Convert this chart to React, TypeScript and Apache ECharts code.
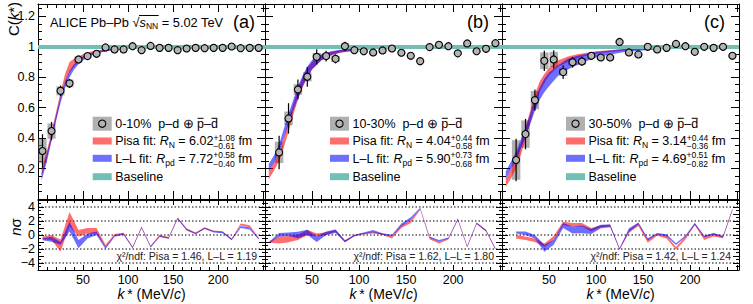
import React, { useEffect, useRef } from "react";
import * as echarts from "echarts";

const FONT = '"Liberation Sans", Arial, Helvetica, sans-serif';

// ---------------- data ----------------
const kA = [5, 15, 25, 35, 45, 55, 65, 75, 85, 95, 105, 115, 125, 135, 145, 155, 165, 175, 185, 195, 205, 215, 225, 235, 245];
const kBC = [15, 25, 35, 45, 55, 65, 75, 85, 95, 105, 115, 125, 135, 145, 155, 165, 175, 185, 195, 205, 215, 225, 235, 245];

// correlation function C(k*)
const cfA = [0.315, 0.446, 0.71, 0.759, 0.916, 0.938, 0.953, 0.995, 0.982, 0.982, 1.003, 0.977, 1.005, 0.992, 0.992, 0.977, 0.988, 0.992, 0.99, 0.992, 0.992, 1.001, 0.99, 0.992, 0.992];
const statA = [0.11, 0.06, 0.035, 0.03, 0.02, 0.018, 0.015, 0.012, 0.012, 0.012, 0.011, 0.011, 0.011, 0.01, 0.01, 0.01, 0.01, 0.01, 0.01, 0.01, 0.01, 0.01, 0.01, 0.01, 0.01];
const sysA = [0.08, 0.05, 0.03, 0.025, 0.02, 0.015, 0.012, 0.01, 0.008, 0.008, 0.008, 0.008, 0.008, 0.007, 0.007, 0.007, 0.007, 0.007, 0.007, 0.007, 0.007, 0.007, 0.007, 0.007, 0.007];

const cfB = [0.306, 0.529, 0.719, 0.802, 0.933, 0.938, 0.92, 1.003, 0.977, 0.97, 0.962, 0.975, 0.988, 0.96, 0.94, 0.905, 0.997, 1.012, 1.003, 0.956, 1.021, 0.97, 0.986, 1.023];
const statB = [0.11, 0.1, 0.065, 0.065, 0.05, 0.035, 0.03, 0.03, 0.02, 0.018, 0.018, 0.016, 0.016, 0.015, 0.015, 0.015, 0.015, 0.015, 0.015, 0.015, 0.015, 0.015, 0.015, 0.015];
const sysB = [0.07, 0.045, 0.035, 0.03, 0.025, 0.02, 0.02, 0.02, 0.012, 0.01, 0.01, 0.01, 0.01, 0.008, 0.008, 0.008, 0.008, 0.008, 0.008, 0.008, 0.008, 0.008, 0.008, 0.008];

const cfC = [0.256, 0.426, 0.649, 0.907, 0.916, 0.833, 0.898, 0.903, 0.94, 0.929, 0.929, 1.031, 0.962, 0.949, 0.999, 0.982, 0.992, 1.018, 1.003, 0.966, 0.999, 0.992, 0.999, 0.94];
const statC = [0.14, 0.1, 0.07, 0.066, 0.06, 0.045, 0.035, 0.03, 0.025, 0.022, 0.02, 0.02, 0.02, 0.018, 0.018, 0.018, 0.018, 0.018, 0.018, 0.018, 0.018, 0.018, 0.018, 0.018];
const sysC = [0.13, 0.09, 0.06, 0.055, 0.05, 0.025, 0.02, 0.02, 0.015, 0.012, 0.012, 0.01, 0.01, 0.01, 0.01, 0.01, 0.01, 0.01, 0.01, 0.01, 0.01, 0.01, 0.01, 0.01];

// fit bands (lower / upper edge) sampled at kFit
const kFit = [4, 10, 15, 20, 25, 30, 35, 40, 45, 50, 60, 70, 80, 100, 130, 170, 252];
const pisaLoA = [0.15, 0.27, 0.39, 0.52, 0.65, 0.76, 0.83, 0.87, 0.9, 0.925, 0.95, 0.965, 0.975, 0.986, 0.992, 0.995, 0.997];
const pisaHiA = [0.2, 0.32, 0.44, 0.57, 0.7, 0.82, 0.9, 0.92, 0.935, 0.95, 0.97, 0.98, 0.988, 0.994, 0.998, 1.0, 1.001];
const llLoA = [0.12, 0.25, 0.38, 0.51, 0.63, 0.73, 0.8, 0.85, 0.885, 0.91, 0.945, 0.962, 0.975, 0.987, 0.993, 0.996, 0.998];
const llHiA = [0.17, 0.3, 0.42, 0.55, 0.67, 0.77, 0.84, 0.885, 0.91, 0.935, 0.96, 0.975, 0.985, 0.994, 0.998, 1.0, 1.001];

const pisaLoB = [0.13, 0.19, 0.25, 0.34, 0.44, 0.55, 0.65, 0.73, 0.8, 0.85, 0.91, 0.94, 0.96, 0.978, 0.99, 0.995, 0.998];
const pisaHiB = [0.18, 0.24, 0.3, 0.4, 0.51, 0.62, 0.72, 0.8, 0.86, 0.9, 0.945, 0.965, 0.978, 0.99, 0.997, 1.0, 1.001];
const llLoB = [0.18, 0.24, 0.31, 0.4, 0.49, 0.58, 0.66, 0.74, 0.8, 0.85, 0.91, 0.945, 0.962, 0.98, 0.99, 0.995, 0.998];
const llHiB = [0.23, 0.29, 0.36, 0.46, 0.56, 0.65, 0.74, 0.81, 0.87, 0.91, 0.95, 0.97, 0.98, 0.99, 0.997, 1.0, 1.001];

const pisaLoC = [0.08, 0.14, 0.2, 0.29, 0.39, 0.5, 0.61, 0.7, 0.76, 0.81, 0.87, 0.9, 0.925, 0.955, 0.975, 0.985, 0.993];
const pisaHiC = [0.13, 0.2, 0.28, 0.37, 0.47, 0.58, 0.69, 0.77, 0.82, 0.86, 0.91, 0.935, 0.95, 0.97, 0.985, 0.993, 0.999];
const llLoC = [0.13, 0.2, 0.26, 0.33, 0.41, 0.49, 0.58, 0.65, 0.7, 0.74, 0.81, 0.85, 0.88, 0.93, 0.965, 0.985, 0.995];
const llHiC = [0.18, 0.25, 0.31, 0.39, 0.47, 0.56, 0.66, 0.73, 0.79, 0.83, 0.88, 0.92, 0.94, 0.965, 0.985, 0.995, 1.0];

const baselineK = [0, 252];
const baselineLo = [0.985, 0.985];
const baselineHi = [1.011, 1.011];

// residuals n sigma (centre and half width of band)
const resKA = kA;
const resPisaA = [-0.4, -0.35, -1.5, 2.25, 0.25, 0.6, 0.6, -1.6, 0, 0.2, -1.75, 1.1, -1.65, -0.1, -0.4, 2.4, 0.85, 0.25, 1.0, 0.55, 0.45, -0.6, 1.5, 1.25, -0.5];
const resPisaWA = [0.2, 0.35, 0.85, 1.05, 0.45, 0.4, 0.4, 0.2, 0.15, 0.12, 0.1, 0.1, 0.1, 0.12, 0.1, 0.1, 0.1, 0.1, 0.1, 0.1, 0.1, 0.1, 0.15, 0.15, 0.1];
const resLLA = [-0.6, -0.6, -1.2, 1.2, -1.3, -0.15, 0.25, -1.85, -0.15, 0.15, -1.8, 1.05, -1.7, -0.2, -0.45, 2.35, 0.75, 0.2, 0.95, 0.45, 0.35, -0.65, 1.15, 0.95, -0.55];
const resLLWA = [0.15, 0.35, 0.2, 0.7, 0.6, 0.35, 0.25, 0.15, 0.1, 0.1, 0.1, 0.1, 0.1, 0.1, 0.1, 0.1, 0.1, 0.1, 0.1, 0.1, 0.1, 0.1, 0.15, 0.15, 0.1];

const resKB = kA;
const resPisaB = [-1.0, -0.7, -0.6, -0.35, 0.35, 0, 0.2, 0.6, -0.9, -0.1, 0.2, 0.35, 0.1, -0.35, 1.2, 1.9, 3.7, -0.45, -1.1, -0.55, 2.2, -1.7, 1.65, 0.6, -2.0];
const resPisaWB = [0.1, 0.5, 0.45, 0.35, 0.4, 0.2, 0.2, 0.15, 0.15, 0.1, 0.1, 0.12, 0.1, 0.15, 0.2, 0.2, 0.1, 0.15, 0.12, 0.1, 0.1, 0.1, 0.1, 0.1, 0.1];
const resLLB = [-1.0, 0.05, 0.1, 0.0, 0.4, -0.6, 0.25, 0.55, -0.9, -0.05, 0.25, 0.55, 0.15, -0.1, 1.45, 2.35, 3.8, -0.3, -0.85, -0.45, 2.25, -1.65, 1.7, 0.65, -1.95];
const resLLWB = [0.1, 0.25, 0.25, 0.45, 0.35, 0.4, 0.25, 0.25, 0.15, 0.1, 0.1, 0.15, 0.1, 0.12, 0.2, 0.2, 0.1, 0.1, 0.12, 0.1, 0.1, 0.1, 0.1, 0.1, 0.1];

const resKC = kBC;
const resPisaC = [-0.25, -0.45, -0.75, -1.45, -0.45, 1.65, 1.45, 1.45, 0.75, 1.25, 1.35, -2.0, 0.5, 1.5, -0.85, 0.05, -0.3, -1.9, -0.45, 1.55, -0.45, 0.0, -0.3, 3.6];
const resPisaWC = [0.25, 0.25, 0.25, 0.25, 0.3, 0.25, 0.25, 0.25, 0.25, 0.15, 0.15, 0.1, 0.2, 0.2, 0.25, 0.15, 0.2, 0.2, 0.2, 0.15, 0.25, 0.2, 0.15, 0.1];
const resLLC = [0.35, 0.25, -0.25, -1.9, -1.05, 1.35, 0.7, 0.8, 0.5, 1.2, 1.3, -2.0, 0.7, 1.65, -0.6, 0.2, -0.05, -1.3, -0.2, 1.6, -0.2, 0.15, -0.25, 3.65];
const resLLWC = [0.15, 0.25, 0.25, 0.5, 0.35, 0.35, 0.5, 0.55, 0.35, 0.25, 0.2, 0.1, 0.25, 0.15, 0.15, 0.1, 0.15, 0.12, 0.12, 0.12, 0.12, 0.12, 0.12, 0.1];

const residualGuides = [-4, -2, 0, 2, 4];

// texts
const panelTags = ["(a)", "(b)", "(c)"];
const centralities = ["0-10%", "10-30%", "30-50%"];
const pisaR = ["6.02", "4.04", "3.14"];
const pisaUp = ["+1.08", "+0.44", "+0.44"];
const pisaDn = ["\u22120.61", "\u22120.58", "\u22120.36"];
const llR = ["7.72", "5.90", "4.69"];
const llUp = ["+0.58", "+0.73", "+0.51"];
const llDn = ["\u22120.40", "\u22120.68", "\u22120.82"];
const chiPisa = ["1.46", "1.62", "1.42"];
const chiLL = ["1.19", "1.80", "1.24"];

// ---------------- layout ----------------
const panelLeft = [38, 265, 502];
const panelRight = [265, 502, 739];
const UP_TOP = 4, UP_H = 195, LO_TOP = 200, LO_H = 70;
const X_MAX = 252;
const legendBoxX = [92.7, 330, 566];
const tagX = [233, 467, 704];

const RED = "rgba(255,0,0,0.57)";
const BLUE = "rgba(0,0,255,0.57)";
const TEAL = "#72bfb5";
const SYS = "rgba(128,128,128,0.62)";
const MARK = "#b4b4b4";

let mctx: any = null;
function tw(t: string, s: number, it = false) {
  if (!mctx) mctx = document.createElement("canvas").getContext("2d");
  mctx.font = `${it ? "italic " : ""}${s}px ${FONT}`;
  return mctx.measureText(t).width;
}
function txt(t: string, x: number, base: number, s: number, it = false, fill = "#000") {
  return {
    type: "text", x, y: base - 0.3465 * s, z: 100,
    style: { text: t, fontSize: s, fontFamily: FONT, fontStyle: it ? "italic" : "normal", fill, align: "left", verticalAlign: "middle", lineHeight: s },
  };
}
function runs(list: any[], x0: number, base: number, size: number, fill = "#000") {
  const els: any[] = [];
  let x = x0;
  for (const r of list) {
    if (r.sup !== undefined) {
      const s = r.s ?? size * 0.7;
      els.push(txt(r.sup, x, base - 4.8, s, false, fill));
      els.push(txt(r.sub, x, base + 3.8, s, false, fill));
      x += Math.max(tw(r.sup, s), tw(r.sub, s));
      continue;
    }
    const s = r.s ?? size;
    const b = base + (r.dy ?? 0);
    els.push(txt(r.t, x, b, s, !!r.it, fill));
    const w = tw(r.t, s, !!r.it);
    if (r.over) {
      els.push({ type: "line", z: 100, shape: { x1: x + 0.5, y1: b - s * 0.8, x2: x + w - 0.5, y2: b - s * 0.8 }, style: { stroke: fill, lineWidth: 1 } });
    }
    x += w;
  }
  return { els, x };
}

function bandSeries(gi: number, ks: number[], lo: number[], hi: number[], color: string, z: number) {
  return {
    type: "custom", xAxisIndex: gi * 2, yAxisIndex: gi * 2, clip: true, z, silent: true,
    data: ks.map((k, i) => [k, lo[i], hi[i]]),
    renderItem: (params: any, api: any) => {
      if (params.dataIndex !== 0) return null;
      const pts: number[][] = [];
      for (let i = 0; i < ks.length; i++) pts.push(api.coord([ks[i], hi[i]]));
      for (let i = ks.length - 1; i >= 0; i--) pts.push(api.coord([ks[i], lo[i]]));
      return { type: "polygon", shape: { points: pts }, style: { fill: color } };
    },
  };
}

function buildOption() {
  const grids: any[] = [];
  const xAxes: any[] = [];
  const yAxes: any[] = [];
  const series: any[] = [];
  const graphic: any[] = [];
  const tick = { color: "#000", width: 1 };

  const P = [
    { k: kA, cf: cfA, st: statA, sy: sysA, pl: pisaLoA, ph: pisaHiA, ll: llLoA, lh: llHiA, rk: resKA, rp: resPisaA, rpw: resPisaWA, rl: resLLA, rlw: resLLWA },
    { k: kBC, cf: cfB, st: statB, sy: sysB, pl: pisaLoB, ph: pisaHiB, ll: llLoB, lh: llHiB, rk: resKB, rp: resPisaB, rpw: resPisaWB, rl: resLLB, rlw: resLLWB },
    { k: kBC, cf: cfC, st: statC, sy: sysC, pl: pisaLoC, ph: pisaHiC, ll: llLoC, lh: llHiC, rk: resKC, rp: resPisaC, rpw: resPisaWC, rl: resLLC, rlw: resLLWC },
  ];

  for (let p = 0; p < 3; p++) {
    const left = panelLeft[p];
    const width = panelRight[p] - panelLeft[p];
    for (let part = 0; part < 2; part++) {
      const gi = p * 2 + part;
      const upper = part === 0;
      grids.push({ left, top: upper ? UP_TOP : LO_TOP, width, height: upper ? UP_H : LO_H });
      for (const pos of ["bottom", "top"]) {
        xAxes.push({
          type: "value", gridIndex: gi, position: pos, min: 0, max: X_MAX, interval: 50,
          axisLine: { show: true, onZero: false, lineStyle: { color: "#000", width: 1 } },
          axisTick: { show: true, inside: true, length: upper ? 8 : 5, lineStyle: tick },
          minorTick: { show: true, splitNumber: 5, length: upper ? 4 : 3, lineStyle: tick },
          splitLine: { show: false },
          axisLabel: {
            show: !upper && pos === "bottom", margin: 3, fontSize: 12.5, color: "#000", fontFamily: FONT,
            formatter: (v: number) => (v === 0 || v >= 250 ? "" : String(v)),
          },
        });
      }
      for (const pos of ["left", "right"]) {
        const showLab = p === 0 && pos === "left";
        yAxes.push(upper ? {
          type: "value", gridIndex: gi, position: pos, min: 0, max: 1.28, interval: 0.2,
          axisLine: { show: true, onZero: false, lineStyle: { color: "#000", width: 1 } },
          axisTick: { show: true, inside: true, length: 8, lineStyle: tick },
          minorTick: { show: true, splitNumber: 4, length: 4, lineStyle: tick },
          splitLine: { show: false },
          axisLabel: {
            show: showLab, margin: 3, fontSize: 12.5, color: "#000", fontFamily: FONT,
            formatter: (v: number) => (Math.abs(v) < 1e-6 ? "" : Math.abs(v - 1) < 1e-6 ? "1" : v.toFixed(1)),
          },
        } : {
          type: "value", gridIndex: gi, position: pos, min: -5, max: 5, interval: 1,
          axisLine: { show: true, onZero: false, lineStyle: { color: "#000", width: 1 } },
          axisTick: { show: true, inside: true, length: 6, lineStyle: tick },
          minorTick: { show: true, splitNumber: 2, length: 3, lineStyle: tick },
          splitLine: { show: false },
          axisLabel: {
            show: showLab, margin: 3, fontSize: 12.5, color: "#000", fontFamily: FONT,
            formatter: (v: number) => {
              const r = Math.round(v);
              if (r % 2 !== 0) return "";
              return r < 0 ? "\u2212" + -r : String(r);
            },
          },
        });
      }
    }

    const d = P[p];
    const gU = p * 2, gL = p * 2 + 1;
    // upper: sys boxes
    series.push({
      type: "custom", xAxisIndex: gU * 2, yAxisIndex: gU * 2, clip: true, z: 2, silent: true,
      data: d.k.map((k, i) => [k, d.cf[i], d.sy[i]]),
      renderItem: (_: any, api: any) => {
        const k = api.value(0), v = api.value(1), s = api.value(2);
        const a = api.coord([k - 4.5, v + s]);
        const b = api.coord([k + 4.5, v - s]);
        return { type: "rect", shape: { x: a[0], y: a[1], width: b[0] - a[0], height: b[1] - a[1] }, style: { fill: SYS } };
      },
    });
    series.push(bandSeries(gU, kFit, d.pl, d.ph, RED, 3));
    series.push(bandSeries(gU, kFit, d.ll, d.lh, BLUE, 3));
    series.push(bandSeries(gU, baselineK, baselineLo, baselineHi, TEAL, 4));
    // stat error bars
    series.push({
      type: "custom", xAxisIndex: gU * 2, yAxisIndex: gU * 2, clip: true, z: 5, silent: true,
      data: d.k.map((k, i) => [k, d.cf[i], d.st[i]]),
      renderItem: (_: any, api: any) => {
        const k = api.value(0), v = api.value(1), s = api.value(2);
        const a = api.coord([k, v + s]);
        const b = api.coord([k, v - s]);
        return { type: "line", shape: { x1: a[0], y1: a[1], x2: b[0], y2: b[1] }, style: { stroke: "#000", lineWidth: 1.2 } };
      },
    });
    series.push({
      type: "scatter", xAxisIndex: gU * 2, yAxisIndex: gU * 2, z: 6, silent: true,
      symbol: "circle", symbolSize: 7,
      itemStyle: { color: MARK, borderColor: "#000", borderWidth: 1.1, opacity: 1 },
      data: d.k.map((k, i) => [k, d.cf[i]]),
    });

    // lower: guides + residual bands
    series.push({
      type: "custom", xAxisIndex: gL * 2, yAxisIndex: gL * 2, clip: true, z: 1, silent: true,
      data: residualGuides.map((g) => [0, g]),
      renderItem: (_: any, api: any) => {
        const v = api.value(1);
        const a = api.coord([0, v]);
        const b = api.coord([X_MAX, v]);
        return { type: "line", shape: { x1: a[0], y1: a[1], x2: b[0], y2: b[1] }, style: { stroke: "#000", lineWidth: 1, lineDash: [1.5, 2] } };
      },
    });
    series.push(bandSeries(gL, d.rk, d.rp.map((c: number, i: number) => c - d.rpw[i]), d.rp.map((c: number, i: number) => c + d.rpw[i]), RED, 3));
    series.push(bandSeries(gL, d.rk, d.rl.map((c: number, i: number) => c - d.rlw[i]), d.rl.map((c: number, i: number) => c + d.rlw[i]), BLUE, 3));

    // legend
    const lx = legendBoxX[p];
    const tx = lx + 22.5;
    const cy = [123.7, 141, 158.3, 176.7];
    const bl = [128.3, 145.6, 162.9, 181.3];
    const FS = 12.5;
    const SS = 8.5;
    graphic.push({ type: "rect", z: 100, shape: { x: lx, y: cy[0] - 7, width: 19, height: 14 }, style: { fill: SYS } });
    graphic.push({ type: "circle", z: 101, shape: { cx: lx + 9.5, cy: cy[0], r: 3.6 }, style: { fill: MARK, stroke: "#000", lineWidth: 1.1 } });
    graphic.push({ type: "rect", z: 100, shape: { x: lx, y: cy[1] - 3.5, width: 19, height: 7 }, style: { fill: RED } });
    graphic.push({ type: "rect", z: 100, shape: { x: lx, y: cy[2] - 3.5, width: 19, height: 7 }, style: { fill: BLUE } });
    graphic.push({ type: "rect", z: 100, shape: { x: lx, y: cy[3] - 3.5, width: 19, height: 7 }, style: { fill: TEAL } });
    graphic.push(...runs([
      { t: centralities[p] + "  p\u2013d \u2295 " }, { t: "p", over: true }, { t: "\u2013" }, { t: "d", over: true },
    ], tx, bl[0], FS).els);
    graphic.push(...runs([
      { t: "Pisa fit: " }, { t: "R", it: true }, { t: "N", s: SS, dy: 2.6 }, { t: " = " + pisaR[p] },
      { sup: pisaUp[p], sub: pisaDn[p], s: SS }, { t: " fm" },
    ], tx, bl[1], FS).els);
    graphic.push(...runs([
      { t: "L\u2013L fit: " }, { t: "R", it: true }, { t: "pd", s: SS, dy: 2.6 }, { t: " = " + llR[p] },
      { sup: llUp[p], sub: llDn[p], s: SS }, { t: " fm" },
    ], tx, bl[2], FS).els);
    graphic.push(txt("Baseline", tx, bl[3], FS));

    // panel tag
    graphic.push(txt(panelTags[p], tagX[p], 28, 18));

    // chi2
    graphic.push({
      type: "text", x: panelRight[p] - 8, y: 256, z: 100,
      style: { text: "\u03c7\u00b2/ndf: Pisa = " + chiPisa[p] + ", L\u2013L = " + chiLL[p], fontSize: 10.5, fontFamily: FONT, fill: "#222", align: "right", verticalAlign: "middle" },
    });

    // x title
    graphic.push({
      type: "text", x: (panelLeft[p] + panelRight[p]) / 2, y: 293.5, z: 100,
      style: {
        text: "{i|k}\u2009* (MeV/{i|c})", fontSize: 14, fontFamily: FONT, fill: "#000", align: "center", verticalAlign: "middle",
        rich: { i: { fontStyle: "italic", fontSize: 14, fontFamily: FONT, fill: "#000" } },
      },
    });
  }

  // ALICE label
  const FS2 = 12.8;
  const r1 = runs([{ t: "ALICE Pb\u2013Pb " }, { t: "\u221a" }], 50, 26.5, FS2);
  graphic.push(...r1.els);
  const r2 = runs([{ t: "s", it: true }, { t: "NN", s: 8.5, dy: 2.6 }], r1.x, 26.5, FS2);
  graphic.push(...r2.els);
  graphic.push({ type: "line", z: 100, shape: { x1: r1.x - 0.5, y1: 26.5 - FS2 * 0.86, x2: r2.x + 0.5, y2: 26.5 - FS2 * 0.86 }, style: { stroke: "#000", lineWidth: 1 } });
  graphic.push(...runs([{ t: " = 5.02 TeV" }], r2.x, 26.5, FS2).els);

  // y titles
  graphic.push({
    type: "text", x: 13, y: 19, rotation: Math.PI / 2, z: 100,
    style: {
      text: "C({i|k}*)", fontSize: 15, fontFamily: FONT, fill: "#000", align: "center", verticalAlign: "middle",
      rich: { i: { fontStyle: "italic", fontSize: 15, fontFamily: FONT, fill: "#000" } },
    },
  });
  graphic.push({
    type: "text", x: 15, y: 227, rotation: Math.PI / 2, z: 100,
    style: {
      text: "{i|n}\u03c3", fontSize: 15, fontFamily: FONT, fill: "#000", align: "center", verticalAlign: "middle",
      rich: { i: { fontStyle: "italic", fontSize: 15, fontFamily: FONT, fill: "#000" } },
    },
  });

  return {
    animation: false,
    backgroundColor: "#fff",
    grid: grids,
    xAxis: xAxes,
    yAxis: yAxes,
    series,
    graphic: { elements: graphic },
  };
}

export default function App() {
  const ref = useRef<HTMLDivElement>(null);
  useEffect(() => {
    const chart = echarts.init(ref.current!, null, { renderer: "svg", width: 753, height: 304 });
    chart.setOption(buildOption() as any);
    return () => chart.dispose();
  }, []);
  return <div ref={ref} style={{ position: "fixed", left: 0, top: 0, width: 753, height: 304, background: "#fff" }} />;
}
